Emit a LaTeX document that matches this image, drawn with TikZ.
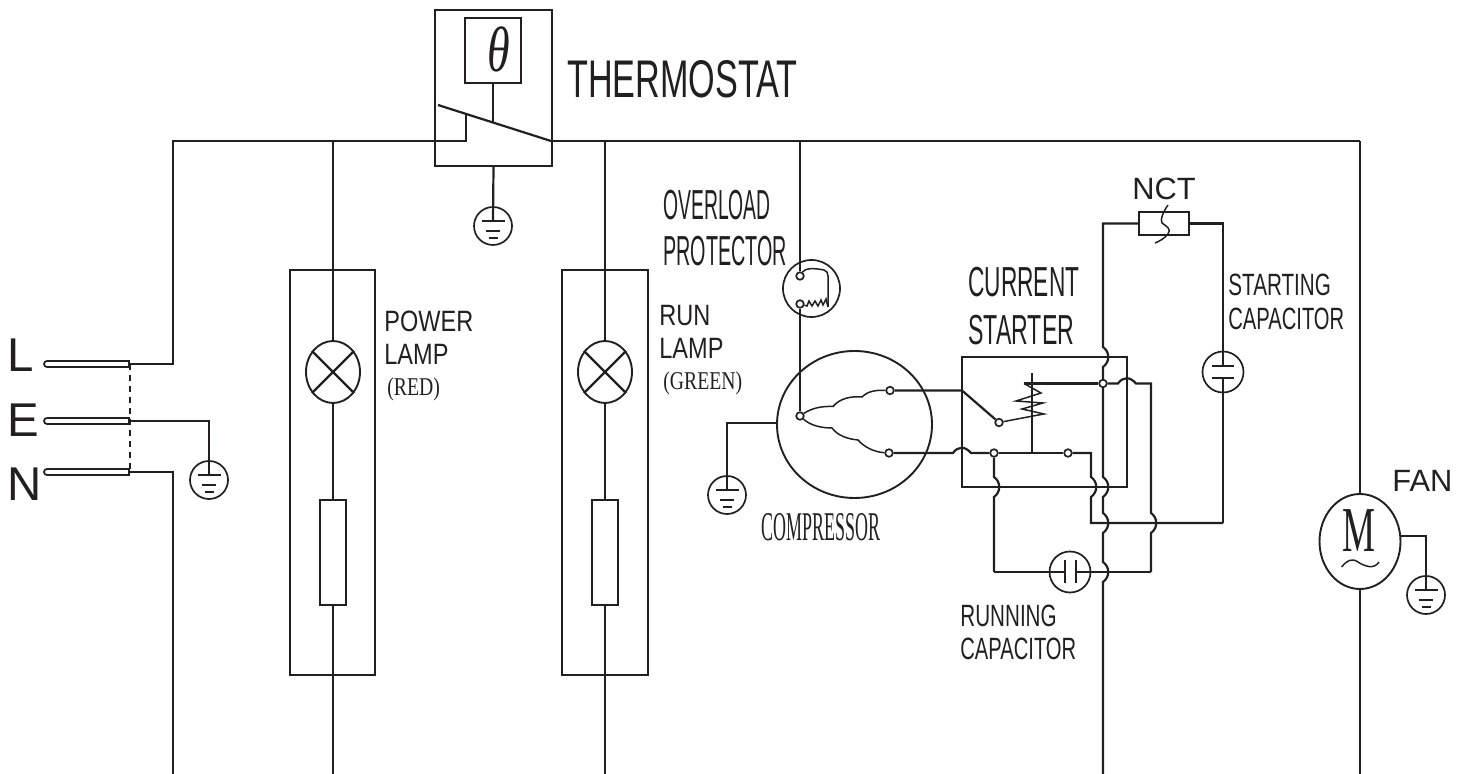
\documentclass[tikz,border=0pt]{standalone}
\usepackage{fontspec}
\usepackage{graphicx}
\usepackage{amsmath}
\setmainfont{Liberation Sans}
\newfontfamily\timesfont{Liberation Serif}
\usetikzlibrary{calc, shapes.geometric, shapes.misc}
\definecolor{ink}{HTML}{231F20}
\tikzset{
  wire/.style = {line width = 1.1pt, color = ink},
  thinwire/.style = {line width = 0.75pt, color = ink},
  ring/.style = {draw = ink, circle, line width = 0.85pt, inner sep = 0pt},
  oval/.style = {draw = ink, ellipse, line width = 0.95pt, inner sep = 0pt},
  term/.style = {draw = ink, circle, fill = white, line width = 0.85pt, inner sep = 0pt, minimum size = 3.8pt},
  frame/.style = {draw = ink, rectangle, line width = 1pt, inner sep = 0pt},
  plugpin/.style = {draw = ink, rounded rectangle, rounded rectangle right arc = none, line width = 0.85pt, inner sep = 0pt, minimum width = 42.5pt, minimum height = 3pt},
  lbl/.style = {anchor = base west, inner sep = 0pt, text = ink}
}
\newcommand{\sqz}[2]{\scalebox{#1}[1]{#2}}
\newcommand{\fs}[1]{\fontsize{#1}{#1}\selectfont}
\newcommand{\hopd}[1]{-- ($(#1) + (0, -10)$) .. controls ($(#1) + (7, -5)$) and ($(#1) + (7, 5)$) .. ($(#1) + (0, 10)$)}
\newcommand{\hopr}[1]{-- ($(#1) + (-9, 0)$) .. controls ($(#1) + (-4, -7)$) and ($(#1) + (3, -7)$) .. ($(#1) + (9, 0)$)}
\newcommand{\earth}[3]{
  \node [ring, minimum size = 19pt] (#1) at (#2, #3) {};
  \coordinate (#1bar) at (#2, #3 - 5);
  \draw [wire] (#2 - 11.5, #3 - 5) to (#2 + 11.5, #3 - 5);
  \draw [wire] (#2 - 7, #3 + 5) to (#2 + 7, #3 + 5);
  \draw [wire] (#2 - 4.5, #3 + 12) to (#2 + 4.5, #3 + 12);
}
\begin{document}
\begin{tikzpicture}[x = 0.5pt, y = -0.5pt]
\useasboundingbox (0, 0) rectangle (1468, 774);
%\draw [very thin, color = gray](0, 0) grid (1468, 774);

% plug
\node [plugpin] (pinL) at (86.5, 364) {};
\node [plugpin] (pinE) at (86.5, 421) {};
\node [plugpin] (pinN) at (86.5, 472) {};
\node [lbl, font = \fs{23.7}] (textL) at (7, 372) {L};
\node [lbl, font = \fs{23.7}] (textE) at (7, 437) {E};
\node [lbl, font = \fs{23.7}] (textN) at (7, 501) {N};
\draw [thinwire, dash pattern = on 3pt off 2.5pt] (pinL.east) to (pinN.east);
\earth{gndplug}{209}{480}
\draw [wire] (pinE.east) -| (gndplugbar);

% bus and rails
\coordinate (busL) at (173, 141);
\coordinate (busA) at (333, 141);
\coordinate (busIn) at (466, 141);
\coordinate (contact) at (466, 114);
\coordinate (bladeL) at (438, 105);
\coordinate (bladeR) at (551, 141);
\coordinate (stem) at (493, 122.5);
\coordinate (busB) at (605, 141);
\coordinate (busO) at (800, 141);
\coordinate (busF) at (1360, 141);
\coordinate (railN) at (173, 774);
\coordinate (railA) at (333, 774);
\coordinate (railB) at (605, 774);
\coordinate (railT) at (1103, 774);
\coordinate (railF) at (1360, 774);
\draw [wire] (pinL.east) -| (busL) to (busIn) to (contact);
\draw [wire] (bladeR) to (busF);
\draw [wire] (pinN.east) -| (railN);

% thermostat
\node [frame, minimum width = 58.5pt, minimum height = 78pt] (therm) at (493.5, 88) {};
\node [frame, minimum width = 28pt, minimum height = 32.5pt] (sensor) at (493, 50.5) {};
\node [text = ink, inner sep = 0pt, font = \timesfont\itshape\fs{32}] (theta) at (498.5, 49) {\sqz{0.72}{θ}};
\draw [wire] (bladeL) to (bladeR);
\draw [wire] (sensor.south) to (stem);
\earth{gndtherm}{493}{226}
\draw [wire] (therm.south) to (gndthermbar);
\node [lbl, font = \fs{26.5}] (thermtext) at (567, 98) {\sqz{0.645}{THERMOSTAT}};

% power lamp
\node [frame, minimum width = 42.5pt, minimum height = 202.5pt] (boxA) at (332.5, 472.5) {};
\node [oval, minimum width = 27pt, minimum height = 31pt] (lampA) at (333, 372) {};
\node [frame, minimum width = 13pt, minimum height = 52.5pt] (resA) at (333, 552.5) {};
\draw [wire] (busA) to (lampA);
\draw [wire] (lampA) to (resA);
\draw [wire] (resA) to (railA);
\draw [wire] (lampA.45) to (lampA.225);
\draw [wire] (lampA.135) to (lampA.315);
\node [lbl, font = \fs{14.7}] (powertext) at (384, 332) {\sqz{0.8}{POWER}};
\node [lbl, font = \fs{14.7}] (powerlamp) at (384, 365) {\sqz{0.8}{LAMP}};
\node [lbl, font = \timesfont\fs{12.8}] (redtext) at (387, 396) {\sqz{0.77}{(RED)}};

% run lamp
\node [frame, minimum width = 43pt, minimum height = 202.5pt] (boxB) at (605, 472.5) {};
\node [oval, minimum width = 27pt, minimum height = 31pt] (lampB) at (605, 372) {};
\node [frame, minimum width = 13pt, minimum height = 52.5pt] (resB) at (605, 552.5) {};
\draw [wire] (busB) to (lampB);
\draw [wire] (lampB) to (resB);
\draw [wire] (resB) to (railB);
\draw [wire] (lampB.45) to (lampB.225);
\draw [wire] (lampB.135) to (lampB.315);
\node [lbl, font = \fs{14.7}] (runtext) at (659, 326) {\sqz{0.8}{RUN}};
\node [lbl, font = \fs{14.7}] (runlamp) at (659, 359) {\sqz{0.8}{LAMP}};
\node [lbl, font = \timesfont\fs{12.8}] (greentext) at (663, 390) {\sqz{0.77}{(GREEN)}};

% overload protector
\node [ring, minimum size = 28.5pt] (ovl) at (811.5, 288.5) {};
\node [term] (ovlA) at (800, 276) {};
\node [term] (ovlB) at (800, 304) {};
\draw [wire] (busO) to (ovlA);
\draw [thinwire] (ovlA) .. controls (805, 268) and (814, 268) .. (824, 270) .. controls (827, 271) and (828, 273) .. (828, 276) to (828, 307);
\draw [thinwire] (ovlB) -- (807, 306) -- (809, 301) -- (812, 306) -- (815, 301) -- (818, 306) -- (821, 300) -- (823, 305) -- (826, 299) -- (828, 307);
\node [lbl, font = \fs{21}] (ovltext) at (663, 220) {\sqz{0.46}{OVERLOAD}};
\node [lbl, font = \fs{21}] (prottext) at (663, 266) {\sqz{0.47}{PROTECTOR}};

% compressor
\node [oval, minimum width = 77.5pt, minimum height = 73.5pt] (comp) at (854.5, 424.5) {};
\node [term] (cmC) at (800, 416) {};
\node [term] (cmS) at (890, 390.5) {};
\node [term] (cmR) at (889, 453) {};
\coordinate (compW) at (777, 423);
\draw [wire] (ovlB) to (cmC);
\draw [thinwire] (cmC) .. controls (812, 408) and (822, 406) .. (833, 406.5) .. controls (840, 398) and (852, 396) .. (862, 397) .. controls (868, 391) and (876, 390) .. (cmS);
\draw [thinwire] (cmC) .. controls (810, 425) and (820, 428) .. (832, 428) .. controls (838, 436) and (848, 439) .. (858, 440) .. controls (864, 447) and (874, 452) .. (cmR);
\earth{gndcomp}{727}{495}
\draw [wire] (compW) -| (gndcompbar);
\node [lbl, font = \timesfont\fs{20.4}] (comptext) at (761, 541) {\sqz{0.44}{COMPRESSOR}};

% current starter
\node [frame, minimum width = 82.5pt, minimum height = 65pt] (starter) at (1044.5, 422) {};
\node [term] (swA) at (999, 422.5) {};
\node [term] (swB) at (994, 453) {};
\node [term] (swC) at (1068, 453) {};
\node [term] (tap) at (1103, 383.5) {};
\coordinate (swIn) at (962, 390.5);
\coordinate (coilTop) at (1032, 373);
\coordinate (coilBot) at (1032, 453);
\coordinate (coilEnd) at (1024, 383.5);
\coordinate (crossL) at (962, 453);
\coordinate (crossR) at (1127, 383.5);
\coordinate (capLeg) at (1151, 383.5);
\coordinate (turnS) at (1091, 453);
\coordinate (hopS) at (1091, 487);
\coordinate (hopB) at (994, 487);
\coordinate (hopX) at (1151, 523);
\coordinate (turnC) at (1223, 523);
\coordinate (runL) at (994, 572);
\coordinate (runR) at (1151, 572);
\draw [wire] (cmS) to (swIn) to (swA);
\draw [thinwire] (swA) -- (1033, 416) -- (1044, 414) -- (1022, 409) -- (1043, 403) -- (1016, 401) -- (1041, 393) -- (coilEnd);
\draw [wire] (coilEnd) to (tap);
\draw [wire] (coilTop) to (coilBot);
\draw [wire] (cmR) \hopr{crossL} -- (swB);
\draw [wire] (swB) to (swC);
\draw [wire] (swC) -- (turnS) \hopd{hopS} |- (turnC);
\draw [wire] (tap) \hopr{crossR} -- (capLeg) \hopd{hopX} -- (runR);
\draw [wire] (swB) \hopd{hopB} -- (runL);
\node [lbl, font = \fs{21}] (curtext) at (968, 297) {\sqz{0.54}{CURRENT}};
\node [lbl, font = \fs{21}] (starttext) at (968, 345) {\sqz{0.55}{STARTER}};

% running capacitor
\node [ring, minimum size = 20.5pt] (runcap) at (1070, 572) {};
\coordinate (plateA) at (1065, 572);
\coordinate (plateB) at (1076, 572);
\draw [wire] (runL) to (plateA);
\draw [wire] (plateB) to (runR);
\draw [wire] (1065, 560) to (1065, 583);
\draw [wire] (1076, 560) to (1076, 583);
\node [lbl, font = \fs{15.4}] (runtexta) at (960, 627) {\sqz{0.67}{RUNNING}};
\node [lbl, font = \fs{15.4}] (runtextb) at (960, 660) {\sqz{0.655}{CAPACITOR}};

% nct and starting capacitor
\node [frame, minimum width = 25pt, minimum height = 11.5pt] (nct) at (1164, 223.5) {};
\coordinate (nctL) at (1103, 223.5);
\coordinate (nctR) at (1223, 223.5);
\coordinate (hopA) at (1103, 357);
\coordinate (hopC) at (1103, 487);
\coordinate (hopD) at (1103, 523);
\coordinate (hopE) at (1103, 572);
\coordinate (plateC) at (1223, 366);
\coordinate (plateD) at (1223, 378);
\draw [wire] (nct.west) -- (nctL) \hopd{hopA} -- (tap);
\draw [wire] (tap) \hopd{hopC} \hopd{hopD} \hopd{hopE} -- (railT);
\draw [wire] (nct.east) -- (nctR) -- (plateC);
\draw [wire] (plateD) -- (turnC);
\draw [thinwire] (1168, 205) .. controls (1163, 212) and (1160, 220) .. (1162, 223) .. controls (1166, 226) and (1172, 229) .. (1168, 234) .. controls (1165, 238) and (1160, 241) .. (1155, 243);
\node [ring, minimum size = 20.5pt] (startcap) at (1223, 372) {};
\draw [wire] (1212, 366) to (1234, 366);
\draw [wire] (1212, 378) to (1234, 378);
\node [lbl, font = \fs{15.4}] (ncttext) at (1132, 200) {NCT};
\node [lbl, font = \fs{15.4}] (starta) at (1228, 296) {\sqz{0.67}{STARTING}};
\node [lbl, font = \fs{15.4}] (startb) at (1228, 330) {\sqz{0.655}{CAPACITOR}};

% fan
\node [oval, minimum width = 40.5pt, minimum height = 47.5pt] (motor) at (1360, 541.5) {};
\node [text = ink, inner sep = 0pt, font = \timesfont\fs{32}] (motortext) at (1359, 531) {\sqz{0.58}{M}};
\draw [thinwire] (1341.7, 567) .. controls (1347, 560) and (1352, 558) .. (1358, 562) .. controls (1364, 566) and (1374, 570) .. (1379, 562);
\coordinate (motorE) at (1400, 536);
\draw [wire] (busF) to (motor);
\draw [wire] (motor) to (railF);
\earth{gndfan}{1426}{595}
\draw [wire] (motorE) -| (gndfanbar);
\node [lbl, font = \fs{15.4}] (fantext) at (1392, 492) {FAN};
\end{tikzpicture}
\end{document}
